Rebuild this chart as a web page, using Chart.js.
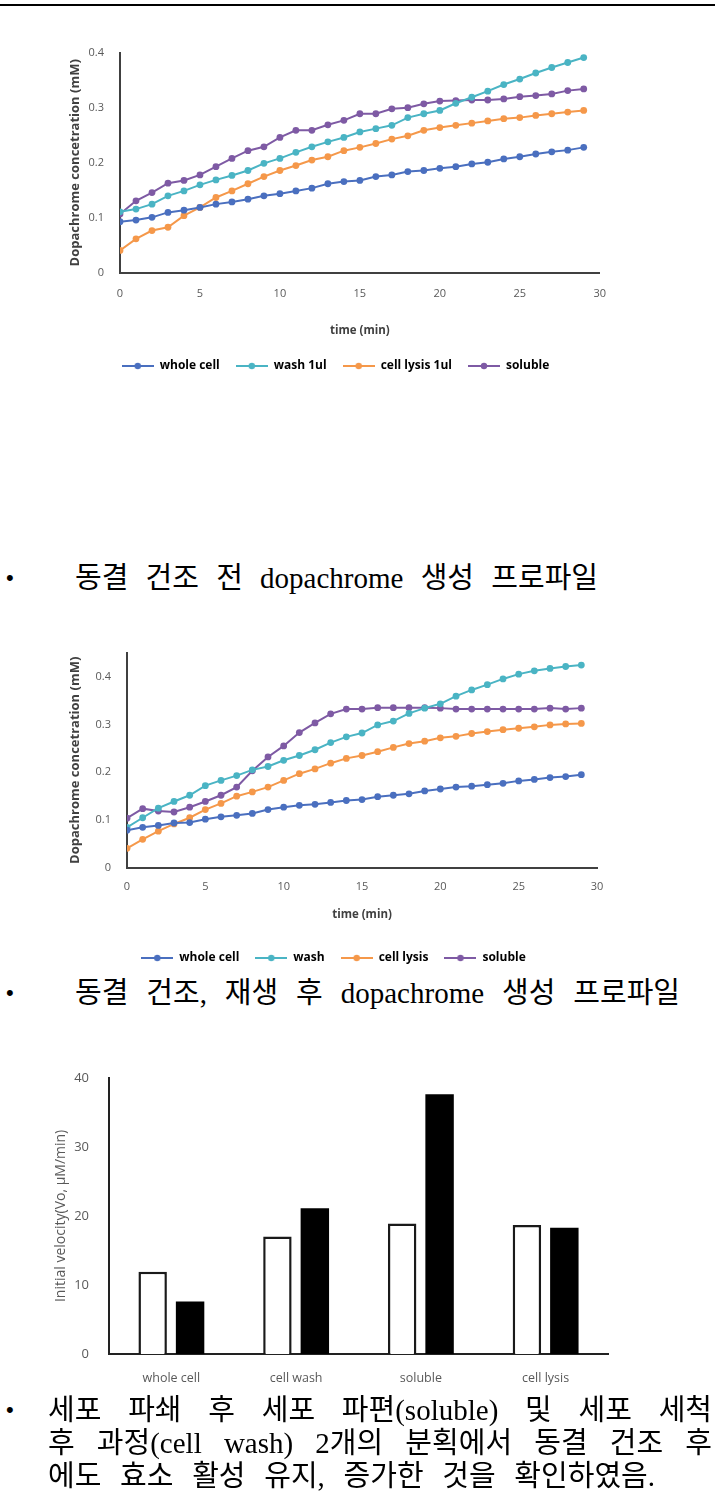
<!DOCTYPE html>
<html><head><meta charset="utf-8">
<script src="https://cdn.jsdelivr.net/npm/chart.js@4.4.1/dist/chart.umd.min.js"></script>
<style>
html,body{margin:0;padding:0;background:#fff;width:715px;height:1510px;overflow:hidden;}
body{position:relative;}
.rule{position:absolute;left:0;top:4px;width:715px;height:2px;background:#000;}
canvas{position:absolute;}
.line{position:absolute;white-space:nowrap;font-family:"Liberation Serif","Noto Sans CJK KR",serif;font-size:29px;line-height:32px;height:32px;color:#000;transform-origin:0 50%;}
.bul{position:absolute;left:6px;font-family:"Liberation Sans",sans-serif;font-size:22px;line-height:32px;height:32px;}
</style></head>
<body>
<div class="rule"></div>
<canvas id="c1" width="580" height="352" style="left:40px;top:30px"></canvas>
<canvas id="c2" width="580" height="344" style="left:40px;top:630px"></canvas>
<canvas id="c3" width="570" height="345" style="left:45px;top:1050px"></canvas>

<div class="bul" style="top:562px">•</div>
<div class="line" data-w="523" style="left:75px;top:562px">동결 건조 전 dopachrome 생성 프로파일</div>
<div class="bul" style="top:977px">•</div>
<div class="line" data-w="605" style="left:75px;top:977px">동결 건조, 재생 후 dopachrome 생성 프로파일</div>
<div class="bul" style="top:1394px">•</div>
<div class="line" data-w="664" style="left:48px;top:1394px">세포 파쇄 후 세포 파편(soluble) 및 세포 세척</div>
<div class="line" data-w="664" style="left:48px;top:1427px">후 과정(cell wash) 2개의 분획에서 동결 건조 후</div>
<div class="line" data-w="607" style="left:48px;top:1460px">에도 효소 활성 유지, 증가한 것을 확인하였음.</div>

<script>
// ---- data ----
const times = [0,1,2,3,4,5,6,7,8,9,10,11,12,13,14,15,16,17,18,19,20,21,22,23,24,25,26,27,28,29];
const xTicks = [0,5,10,15,20,25,30];

// chart 1 : before freeze drying
const names1 = ['whole cell','wash 1ul','cell lysis 1ul','soluble'];
const wholeCell1 = [0.093,0.096,0.101,0.110,0.114,0.119,0.125,0.129,0.134,0.140,0.144,0.149,0.154,0.162,0.166,0.168,0.175,0.178,0.184,0.186,0.190,0.193,0.198,0.201,0.207,0.211,0.216,0.220,0.223,0.228];
const wash1 = [0.111,0.116,0.125,0.140,0.149,0.160,0.169,0.177,0.186,0.199,0.208,0.219,0.229,0.238,0.246,0.256,0.262,0.268,0.282,0.289,0.295,0.308,0.319,0.330,0.342,0.352,0.363,0.373,0.382,0.391];
const lysis1 = [0.041,0.062,0.077,0.083,0.104,0.119,0.137,0.149,0.162,0.175,0.186,0.195,0.205,0.211,0.222,0.228,0.235,0.243,0.249,0.259,0.264,0.268,0.272,0.276,0.280,0.282,0.286,0.289,0.292,0.295];
const soluble1 = [0.107,0.131,0.146,0.163,0.168,0.178,0.193,0.208,0.222,0.229,0.246,0.259,0.259,0.269,0.277,0.289,0.289,0.298,0.300,0.307,0.312,0.313,0.314,0.314,0.316,0.320,0.322,0.325,0.331,0.334];

// chart 2 : after freeze drying & reconstitution
const names2 = ['whole cell','wash','cell lysis','soluble'];
const wholeCell2 = [0.079,0.085,0.089,0.094,0.095,0.102,0.107,0.110,0.114,0.122,0.127,0.131,0.133,0.137,0.141,0.143,0.149,0.152,0.155,0.161,0.165,0.169,0.171,0.174,0.177,0.182,0.185,0.189,0.191,0.195];
const wash2 = [0.085,0.105,0.125,0.139,0.152,0.172,0.183,0.193,0.205,0.212,0.225,0.235,0.247,0.262,0.274,0.282,0.299,0.307,0.323,0.334,0.343,0.359,0.372,0.383,0.395,0.405,0.412,0.417,0.421,0.424];
const lysis2 = [0.041,0.060,0.077,0.092,0.105,0.122,0.135,0.150,0.159,0.169,0.183,0.197,0.207,0.219,0.229,0.235,0.243,0.252,0.260,0.265,0.272,0.275,0.281,0.285,0.289,0.292,0.295,0.299,0.301,0.302];
const soluble2 = [0.104,0.124,0.119,0.117,0.127,0.139,0.152,0.169,0.203,0.232,0.255,0.283,0.303,0.322,0.332,0.332,0.335,0.335,0.335,0.335,0.334,0.332,0.332,0.332,0.332,0.332,0.332,0.334,0.332,0.334];

// chart 3 : initial velocity
const barCategories = ['whole cell','cell wash','soluble','cell lysis'];
const velocityBefore = [11.9, 17.0, 18.9, 18.7];
const velocityAfter = [7.6, 21.1, 37.6, 18.3];

// ---- styling ----
const colors = ['#4a6fbf','#4ab4c4','#f5984a','#7e5aa4'];
const axisColor = '#404040';
const labelColor = '#595959';

function marker(color){
  const c = document.createElement('canvas');
  c.width = 32; c.height = 10;
  const g = c.getContext('2d');
  g.strokeStyle = color; g.lineWidth = 2;
  g.beginPath(); g.moveTo(0,5); g.lineTo(32,5); g.stroke();
  g.fillStyle = color; g.beginPath(); g.arc(16,5,3.2,0,Math.PI*2); g.fill();
  return c;
}

function lineChart(id, names, series, cfg){
  const pointImgs = series.map((v,i)=>marker(colors[i]));
  const datasets = series.map((vals,i)=>({
    label: names[i],
    data: times.map((t,k)=>({x:t, y:vals[k]})),
    borderColor: colors[i],
    backgroundColor: colors[i],
    borderWidth: 2,
    pointRadius: 3.4,
    pointBorderWidth: 0,
    pointStyle: 'circle',
    tension: 0
  }));
  new Chart(document.getElementById(id), {
    type: 'line',
    data: { datasets },
    options: {
      responsive: false, animation: false, devicePixelRatio: 1,
      layout: { padding: cfg.padding },
      plugins: {
        tooltip: {enabled:false},
        legend: {
          position: 'bottom',
          labels: {
            usePointStyle: true, pointStyleWidth: 32, padding: 16,
            color: labelColor,
            font: {family: 'Open Sans', size: 12, weight: 'bold'},
            generateLabels: (chart)=> chart.data.datasets.map((d,i)=>({
              text: d.label, fillStyle: colors[i], strokeStyle: colors[i],
              lineWidth: 0, pointStyle: pointImgs[i], datasetIndex: i, hidden: false
            }))
          }
        }
      },
      scales: {
        x: {
          type: 'linear', min: 0, max: 30,
          afterBuildTicks: s => { s.ticks = xTicks.map(v=>({value:v})); },
          ticks: { color: labelColor, font: {family:'Open Sans', size: 11}, padding: cfg.xPad, maxRotation: 0 },
          grid: { display: false, drawTicks: false },
          border: { display: true, color: axisColor, width: 2 },
          title: { display: true, text: 'time (min)', color: axisColor,
                   font: {family:'Open Sans', size: 11.5, weight:'bold'}, padding: {top:0, bottom: cfg.xTitlePad} },
          afterFit: s => { s.height = cfg.xHeight; }
        },
        y: {
          min: 0, max: cfg.yMax,
          afterBuildTicks: s => { s.ticks = cfg.yTicks.map(v=>({value:v})); },
          ticks: { color: labelColor, font: {family:'Open Sans', size: 11}, padding: cfg.yPad,
                   callback: v => v === 0 ? '0' : String(v) },
          grid: { display: false, drawTicks: false },
          border: { display: true, color: axisColor, width: 2 },
          title: { display: true, text: 'Dopachrome concetration (mM)', color: axisColor,
                   font: {family:'Open Sans', size: 13, weight:'bold'}, padding: {top: cfg.yTitlePad, bottom:0} },
          afterFit: s => { s.width = cfg.yWidth; }
        }
      }
    }
  });
}

lineChart('c1', names1, [wholeCell1, wash1, lysis1, soluble1], {
  padding: {top: 21, right: 19, left: 30, bottom: 0},
  yMax: 0.4, yTicks: [0,0.1,0.2,0.3,0.4], xPad: 14, xTitlePad: 6, xHeight: 71,
  yPad: 16, yWidth: 50, yTitlePad: -3
});
lineChart('c2', names2, [wholeCell2, wash2, lysis2, soluble2], {
  padding: {top: 15, right: 23, left: 30, bottom: 0},
  yMax: 0.45, yTicks: [0,0.1,0.2,0.3,0.4], xPad: 12, xTitlePad: 14, xHeight: 68,
  yPad: 16, yWidth: 57, yTitlePad: -3
});

new Chart(document.getElementById('c3'), {
  type: 'bar',
  data: {
    labels: barCategories,
    datasets: [
      { label: 'before', data: velocityBefore, backgroundColor: '#ffffff', borderColor: '#1a1a1a', borderWidth: 2.5 },
      { label: 'after', data: velocityAfter, backgroundColor: '#000000', borderColor: '#000000', borderWidth: 0 }
    ]
  },
  options: {
    responsive: false, animation: false, devicePixelRatio: 1,
    layout: { padding: {top: 18, right: 7, left: 0, bottom: 0} },
    datasets: { bar: { categoryPercentage: 0.6, barPercentage: 0.76 } },
    plugins: { legend: {display:false}, tooltip: {enabled:false} },
    scales: {
      x: {
        ticks: { color: labelColor, font: {family:'Open Sans', size: 12.5}, padding: 17 },
        grid: { display: false, drawTicks: false },
        border: { display: true, color: '#222', width: 2 },
        afterFit: s => { s.height = 41; }
      },
      y: {
        min: 0, max: 40,
        ticks: { stepSize: 10, color: labelColor, font: {family:'Open Sans', size: 13}, padding: 20 },
        grid: { display: false, drawTicks: false },
        border: { display: true, color: '#222', width: 2 },
        title: { display: true, text: 'Initial velocity(Vo, μM/min)', color: labelColor,
                 font: {family:'Open Sans', size: 14}, padding: {top: 8, bottom: 0} },
        afterFit: s => { s.width = 64; }
      }
    }
  }
});

// fit text lines to their widths
document.querySelectorAll('.line').forEach(el=>{
  const target = +el.dataset.w;
  const w0 = el.getBoundingClientRect().width;
  const n = (el.textContent.match(/ /g)||[]).length;
  const extra = target - w0;
  if (extra > 0 && n > 0) el.style.wordSpacing = (extra/n) + 'px';
  else if (extra < 0) el.style.transform = 'scaleX(' + (target/w0) + ')';
});
</script>
</body></html>
